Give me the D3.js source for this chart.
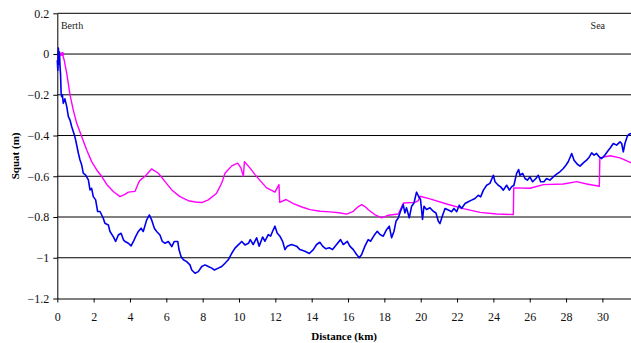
<!DOCTYPE html>
<html>
<head>
<meta charset="utf-8">
<script src="https://cdn.jsdelivr.net/npm/d3@7"></script>
<style>
  html, body { margin: 0; padding: 0; background: #fff; }
  svg { display: block; font-family: "Liberation Serif", "Times New Roman", serif; }
</style>
</head>
<body>
<svg id="chart" width="631" height="343"></svg>
<script>
// Axis ticks
const xTicks = [0, 2, 4, 6, 8, 10, 12, 14, 16, 18, 20, 22, 24, 26, 28, 30];
const yTicks = [0.2, 0, -0.2, -0.4, -0.6, -0.8, -1, -1.2];

// Measured squat along the channel: [distance km, squat m]
const measuredSquat = [
  [0.0,-0.03],[0.03,-0.08],[0.06,0.03],[0.09,-0.05],[0.12,0.01],[0.15,-0.062],[0.18,-0.1],
  [0.21,-0.19],[0.24,-0.209],[0.28,-0.2],[0.33,-0.242],[0.42,-0.22],[0.52,-0.258],[0.61,-0.307],
  [0.7,-0.324],[0.79,-0.356],[0.94,-0.397],[1.01,-0.422],[1.16,-0.487],[1.25,-0.52],[1.34,-0.544],
  [1.43,-0.585],[1.56,-0.594],[1.71,-0.618],[1.8,-0.667],[1.89,-0.659],[1.98,-0.70],[2.11,-0.716],
  [2.22,-0.773],[2.35,-0.773],[2.53,-0.806],[2.62,-0.831],[2.81,-0.839],[2.9,-0.871],[3.08,-0.896],
  [3.21,-0.92],[3.36,-0.888],[3.51,-0.88],[3.64,-0.912],[3.73,-0.92],[3.91,-0.929],[4.06,-0.942],
  [4.19,-0.92],[4.31,-0.896],[4.46,-0.871],[4.61,-0.855],[4.73,-0.871],[4.92,-0.814],[5.07,-0.79],
  [5.19,-0.814],[5.34,-0.855],[5.47,-0.871],[5.65,-0.888],[5.78,-0.92],[5.93,-0.929],[6.11,-0.92],
  [6.3,-0.945],[6.44,-0.92],[6.63,-0.92],[6.7,-0.961],[6.81,-0.994],[6.94,-1.01],[7.12,-1.019],
  [7.3,-1.035],[7.4,-1.06],[7.58,-1.076],[7.76,-1.068],[7.95,-1.043],[8.13,-1.035],[8.31,-1.043],
  [8.5,-1.051],[8.65,-1.06],[8.86,-1.051],[9.05,-1.043],[9.23,-1.027],[9.41,-1.01],[9.6,-0.978],
  [9.78,-0.953],[9.96,-0.937],[10.15,-0.92],[10.33,-0.937],[10.52,-0.929],[10.62,-0.911],
  [10.78,-0.935],[10.97,-0.902],[11.11,-0.943],[11.3,-0.898],[11.43,-0.919],[11.61,-0.886],
  [11.74,-0.894],[11.85,-0.87],[11.98,-0.845],[12.1,-0.878],[12.25,-0.894],[12.4,-0.919],
  [12.53,-0.96],[12.66,-0.943],[12.89,-0.935],[13.17,-0.943],[13.35,-0.96],[13.63,-0.968],
  [13.87,-0.979],[14.09,-0.96],[14.27,-0.935],[14.45,-0.924],[14.6,-0.943],[14.78,-0.956],
  [14.97,-0.951],[15.15,-0.96],[15.37,-0.935],[15.59,-0.911],[15.74,-0.935],[15.96,-0.919],
  [16.1,-0.943],[16.29,-0.96],[16.47,-0.984],[16.62,-1.0],[16.75,-0.984],[16.93,-0.943],
  [17.11,-0.911],[17.24,-0.919],[17.43,-0.891],[17.61,-0.87],[17.76,-0.886],[17.94,-0.894],
  [18.12,-0.862],[18.27,-0.845],[18.4,-0.902],[18.53,-0.87],[18.64,-0.821],[18.77,-0.804],
  [18.89,-0.772],[19.04,-0.739],[19.13,-0.78],[19.22,-0.755],[19.37,-0.804],[19.5,-0.747],
  [19.63,-0.731],[19.77,-0.678],[19.88,-0.698],[19.99,-0.714],[20.1,-0.812],[20.18,-0.747],
  [20.32,-0.763],[20.51,-0.755],[20.69,-0.772],[20.84,-0.78],[20.97,-0.821],[21.06,-0.832],
  [21.21,-0.79],[21.34,-0.758],[21.52,-0.766],[21.7,-0.774],[21.83,-0.758],[21.98,-0.774],
  [22.12,-0.742],[22.25,-0.758],[22.44,-0.734],[22.62,-0.725],[22.8,-0.717],[22.99,-0.709],
  [23.17,-0.693],[23.3,-0.701],[23.45,-0.668],[23.63,-0.644],[23.81,-0.635],[24.0,-0.595],
  [24.09,-0.627],[24.27,-0.644],[24.4,-0.652],[24.55,-0.668],[24.73,-0.644],[24.88,-0.668],
  [25.0,-0.652],[25.13,-0.644],[25.28,-0.586],[25.39,-0.567],[25.46,-0.595],[25.61,-0.586],
  [25.74,-0.611],[25.87,-0.619],[26.01,-0.603],[26.16,-0.627],[26.34,-0.611],[26.47,-0.595],
  [26.6,-0.627],[26.78,-0.627],[26.93,-0.611],[27.11,-0.619],[27.3,-0.603],[27.48,-0.59],
  [27.66,-0.578],[27.85,-0.562],[27.99,-0.546],[28.12,-0.529],[28.31,-0.488],[28.44,-0.521],
  [28.62,-0.541],[28.77,-0.55],[28.95,-0.534],[29.13,-0.521],[29.28,-0.505],[29.41,-0.485],
  [29.54,-0.496],[29.68,-0.488],[29.83,-0.505],[29.96,-0.513],[30.14,-0.496],[30.33,-0.472],
  [30.45,-0.459],[30.6,-0.439],[30.78,-0.447],[30.97,-0.431],[31.06,-0.439],[31.15,-0.48],
  [31.24,-0.439],[31.37,-0.403],[31.48,-0.393],[31.6,-0.39]
];

// Predicted squat along the channel: [distance km, squat m]
const predictedSquat = [
  [0.05,-0.02],[0.15,-0.005],[0.28,0.0],[0.38,-0.03],[0.52,-0.095],[0.7,-0.2],[0.88,-0.275],
  [1.07,-0.34],[1.34,-0.405],[1.62,-0.471],[1.89,-0.528],[2.17,-0.569],[2.44,-0.6],[2.72,-0.64],
  [3.08,-0.675],[3.45,-0.70],[3.7,-0.69],[3.91,-0.678],[4.28,-0.674],[4.46,-0.634],[4.55,-0.62],
  [4.83,-0.60],[5.19,-0.564],[5.56,-0.585],[5.93,-0.626],[6.3,-0.667],[6.75,-0.70],[7.21,-0.72],
  [7.6,-0.726],[7.95,-0.729],[8.31,-0.716],[8.77,-0.683],[9.05,-0.633],[9.23,-0.585],[9.6,-0.549],
  [9.93,-0.536],[10.11,-0.56],[10.24,-0.60],[10.3,-0.528],[10.61,-0.56],[10.88,-0.592],
  [11.2,-0.625],[11.52,-0.657],[11.98,-0.678],[12.2,-0.641],[12.24,-0.728],[12.59,-0.714],
  [12.99,-0.734],[13.5,-0.752],[13.91,-0.764],[14.46,-0.772],[15.01,-0.775],[15.5,-0.779],
  [15.93,-0.786],[16.29,-0.772],[16.55,-0.75],[16.75,-0.739],[16.95,-0.75],[17.12,-0.764],
  [17.5,-0.79],[17.85,-0.804],[18.22,-0.791],[18.77,-0.785],[19.05,-0.731],[19.69,-0.728],
  [19.87,-0.72],[19.96,-0.698],[20.51,-0.711],[21.43,-0.736],[22.35,-0.759],[23.27,-0.777],
  [24.18,-0.785],[25.1,-0.788],[25.12,-0.657],[26.02,-0.659],[26.75,-0.641],[27.85,-0.638],
  [28.59,-0.626],[29.14,-0.638],[29.83,-0.649],[29.86,-0.51],[30.42,-0.499],[30.97,-0.51],
  [31.6,-0.535]
];

// Place-name annotations: [text, distance km]
const placeNames = [["Berth", 0.2], ["Sea", 29.35]];

const svg = d3.select("#chart");
const W = 631, H = 343;

const x = d3.scaleLinear().domain([0, 32]).range([57.3, 57.3 + 32 * 18.17]);
const y = d3.scaleLinear().domain([-1.2, 0.2]).range([298.5, 13.3]);

// Horizontal gridlines
svg.append("g")
  .selectAll("line")
  .data(yTicks.filter(d => d !== -1.2))
  .join("line")
  .attr("x1", x(0)).attr("x2", W)
  .attr("y1", d => y(d)).attr("y2", d => y(d))
  .attr("stroke", "#000").attr("stroke-width", 1);

// Axes
const fmtY = d => d === 0 ? "0" : d3.format("")(+d.toFixed(1));
const yAxis = svg.append("g")
  .attr("transform", `translate(${x(0)},0)`)
  .call(d3.axisLeft(y).tickValues(yTicks).tickFormat(fmtY).tickSize(4).tickSizeOuter(0).tickPadding(4));
const xAxis = svg.append("g")
  .attr("transform", `translate(0,${y(-1.2)})`)
  .call(d3.axisBottom(x).tickValues(xTicks).tickFormat(d3.format("d")).tickSize(4).tickSizeOuter(0).tickPadding(10));

[xAxis, yAxis].forEach(g => {
  g.selectAll("path, line").attr("stroke", "#000");
  g.selectAll("text").attr("fill", "#111").style("font-size", "12px")
    .style("font-family", '"Liberation Serif", "Times New Roman", serif');
});

// Series lines
const line = d3.line().x(d => x(d[0])).y(d => y(d[1]));

svg.append("path")
  .datum(predictedSquat)
  .attr("d", line)
  .attr("fill", "none")
  .attr("stroke", "#ff00ff")
  .attr("stroke-width", 1.4)
  .attr("stroke-linejoin", "round");

svg.append("path")
  .datum(measuredSquat)
  .attr("d", line)
  .attr("fill", "none")
  .attr("stroke", "#0000ee")
  .attr("stroke-width", 1.6)
  .attr("stroke-linejoin", "round");

// Start marker on predicted line
svg.append("circle")
  .attr("cx", x(predictedSquat[2][0])).attr("cy", y(predictedSquat[2][1]))
  .attr("r", 2).attr("fill", "#ff00ff");

// Place names
svg.append("g")
  .selectAll("text")
  .data(placeNames)
  .join("text")
  .attr("x", d => x(d[1]))
  .attr("y", 29)
  .attr("fill", "#222")
  .style("font-size", "10px")
  .text(d => d[0]);

// Axis titles
svg.append("text")
  .attr("x", (x(0) + W) / 2).attr("y", 340)
  .attr("text-anchor", "middle")
  .style("font-size", "11px").style("font-weight", "bold")
  .text("Distance (km)");

svg.append("text")
  .attr("transform", `translate(19,${(y(0.2) + y(-1.2)) / 2}) rotate(-90)`)
  .attr("text-anchor", "middle")
  .style("font-size", "11px").style("font-weight", "bold")
  .text("Squat (m)");
</script>
</body>
</html>
